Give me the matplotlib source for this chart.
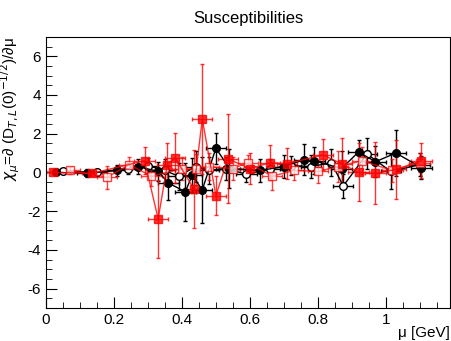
import numpy as np
import matplotlib
matplotlib.use("Agg")
import matplotlib.pyplot as plt
from matplotlib.ticker import MultipleLocator

plt.rcParams['font.family'] = ['Liberation Sans', 'DejaVu Sans']
plt.rcParams['axes.unicode_minus'] = False
fontsize = 11

# black, filled circles
bf_x = [0.03, 0.12, 0.21, 0.27, 0.33, 0.36, 0.41, 0.43, 0.46, 0.50, 0.54, 0.63, 0.70, 0.76, 0.79, 0.87, 0.92, 0.97, 1.03, 1.105]
bf_y = [0.0, -0.05, 0.1, 0.3, 0.05, -0.55, -1.0, -0.15, -0.9, 1.25, 0.2, 0.1, 0.3, 0.65, 0.6, 0.2, 1.05, 0.55, 1.0, 0.25]
bf_ey = [0.15, 0.2, 0.3, 0.4, 0.5, 0.9, 1.5, 0.9, 1.7, 0.8, 1.0, 0.6, 0.6, 0.8, 0.7, 0.9, 0.6, 0.8, 1.2, 0.6]

# black, open circles
bo_x = [0.05, 0.15, 0.24, 0.30, 0.35, 0.39, 0.44, 0.48, 0.53, 0.59, 0.66, 0.72, 0.78, 0.84, 0.875, 0.945, 1.015, 1.10]
bo_y = [0.05, 0.0, 0.2, 0.35, 0.1, -0.2, 0.3, 0.1, 0.2, -0.1, 0.2, 0.35, 0.3, 0.5, -0.7, 0.95, 0.05, 0.4]
bo_ey = [0.1, 0.2, 0.3, 0.4, 0.6, 0.7, 0.8, 0.7, 0.6, 0.4, 0.5, 0.5, 0.6, 0.7, 0.6, 0.8, 0.9, 0.6]

# red, filled squares
rf_x = [0.02, 0.135, 0.29, 0.33, 0.357, 0.38, 0.435, 0.46, 0.50, 0.535, 0.60, 0.66, 0.71, 0.815, 0.87, 0.92, 0.97, 1.03, 1.105]
rf_y = [0.0, -0.05, 0.6, -2.4, 0.4, 0.75, -0.85, 2.75, -1.2, 0.7, 0.2, 0.5, 0.45, 0.9, 0.45, 0.0, -0.05, 0.15, 0.6]
rf_ey = [0.1, 0.15, 0.7, 2.0, 1.1, 1.3, 2.0, 2.85, 1.0, 2.3, 0.8, 0.9, 0.8, 0.8, 1.3, 1.5, 1.6, 1.5, 0.9]

# red, open squares
ro_x = [0.07, 0.18, 0.245, 0.31, 0.40, 0.44, 0.48, 0.55, 0.595, 0.665, 0.73, 0.80, 0.86, 0.93, 1.02, 1.10]
ro_y = [0.1, -0.25, 0.4, -0.2, 0.2, 0.15, 0.3, 0.2, 0.5, -0.2, 0.1, 0.05, 0.3, 0.6, 0.1, 0.5]
ro_ey = [0.2, 0.6, 0.4, 0.5, 0.6, 0.8, 0.7, 0.6, 0.4, 0.7, 0.5, 0.6, 0.8, 0.7, 0.6, 0.5]

xerr = 0.03

fig = plt.figure(figsize=(4.52, 3.41), dpi=100)
ax = fig.add_axes([0.102, 0.097, 0.894, 0.795])

def draw(x, y, ey, color, marker, filled, alpha=1.0):
    ax.errorbar(x, y, yerr=ey, xerr=xerr, color=color, ecolor=color, marker=marker,
                markersize=5.5, mfc=color if filled else 'white', mec=color, mew=1.0,
                lw=1.0, elinewidth=1.0, capsize=1.5, capthick=1.0, alpha=alpha)

draw(bo_x, bo_y, bo_ey, 'black', 'o', False)
draw(bf_x, bf_y, bf_ey, 'black', 'o', True)
draw(ro_x, ro_y, ro_ey, 'red', 's', False, 0.75)
draw(rf_x, rf_y, rf_ey, 'red', 's', True, 0.8)

ax.set_xlim(0, 1.19)
ax.set_ylim(-7, 7)
ax.xaxis.set_major_locator(MultipleLocator(0.2))
ax.xaxis.set_minor_locator(MultipleLocator(0.05))
ax.yaxis.set_major_locator(MultipleLocator(2))
ax.yaxis.set_minor_locator(MultipleLocator(0.5))
ax.tick_params(which='both', direction='in', top=False, right=False, labelsize=fontsize)
ax.tick_params(which='major', length=8)
ax.tick_params(which='minor', length=4)
ax.set_xticks([0, 0.2, 0.4, 0.6, 0.8, 1.0])
ax.set_xticklabels(['0', '0.2', '0.4', '0.6', '0.8', '1'])
ax.set_yticks([-6, -4, -2, 0, 2, 4, 6])
ax.set_yticklabels(['-6', '-4', '-2', '0', '2', '4', '6'])

ax.set_title('Susceptibilities', fontsize=fontsize + 1, pad=10)
ax.set_xlabel('μ [GeV]', fontsize=fontsize, ha='right', va='top')
ax.xaxis.set_label_coords(1.0, -0.065)
ax.set_ylabel(r'$\chi_{\mu}$=∂ (D$_{T,L}$(0)$^{-1/2}$)/∂μ', fontsize=fontsize, loc='top')

fig.savefig('out.png', dpi=100)
